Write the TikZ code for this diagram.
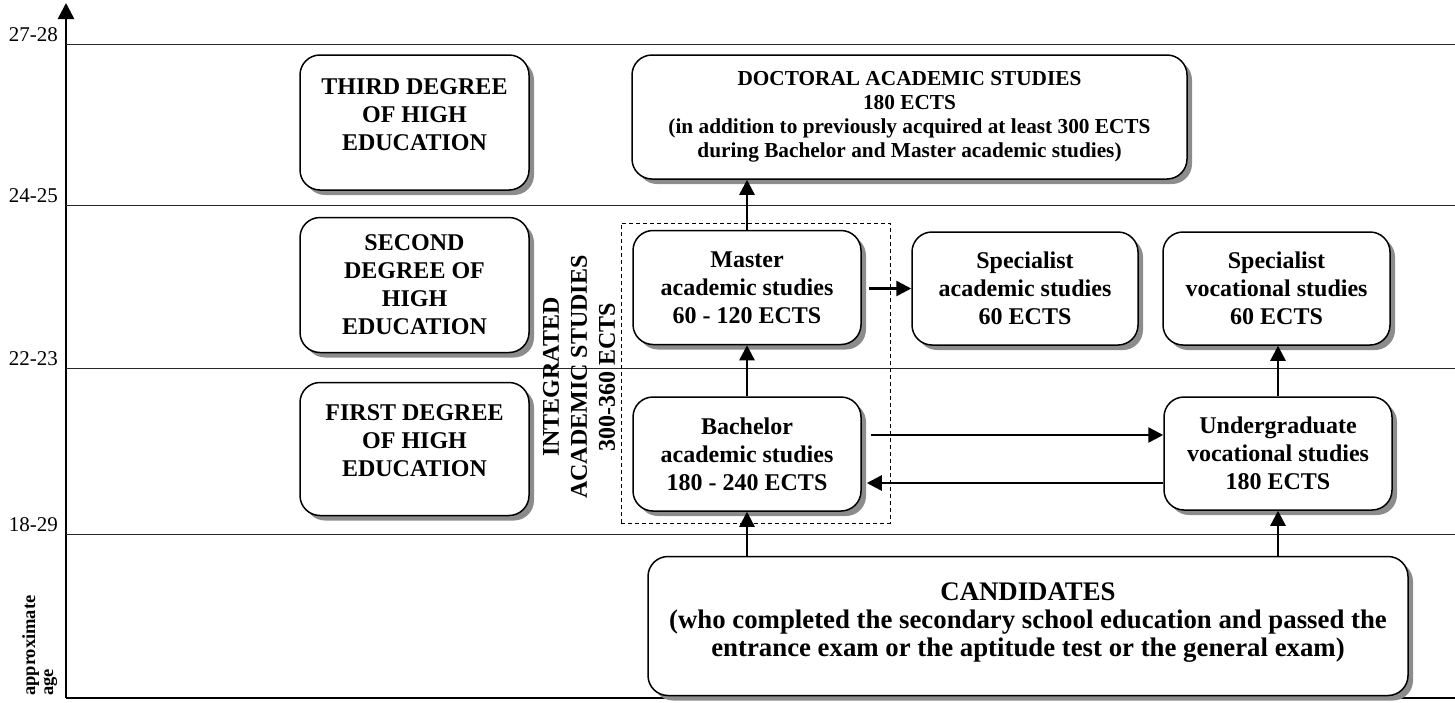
\documentclass[tikz,border=0pt]{standalone}
\usepackage{fontspec}
\setmainfont{Liberation Serif}
\usetikzlibrary{arrows.meta,shadows}
\tikzset{
  box/.style={draw, line width=1.5pt, rounded corners=20pt, fill=white, align=center,
    inner sep=0pt, font=\bfseries\fontsize{24}{28}\selectfont,
    drop shadow={shadow xshift=5pt, shadow yshift=-5pt, fill=black!45, opacity=1}},
  smallbox/.style={box, minimum width=228pt, minimum height=114pt},
  degbox/.style={box, minimum width=229pt, minimum height=135pt},
  arr/.style={line width=2.5pt, -{Triangle[length=15pt,width=15pt]}},
  agerule/.style={line width=0.9pt, black!85},
  axisline/.style={line width=2.5pt},
  agelabel/.style={font=\fontsize{21}{24}\selectfont, inner sep=0pt, anchor=base east},
  sidetext/.style={font=\bfseries\fontsize{24}{28}\selectfont, align=center, inner sep=0pt, rotate=90},
  dashbox/.style={draw, line width=1pt, dash pattern=on 4pt off 3pt}
}
\begin{document}
\begin{tikzpicture}[x=1pt,y=-1pt]
\useasboundingbox (0,0) rectangle (1455,702);
% axes
\coordinate (origin) at (66,698);
\coordinate (ytop) at (66,3);
\coordinate (xend) at (1455,698);
\draw[axisline, -{Triangle[length=16pt,width=16pt]}] (origin) -- (ytop);
\draw[axisline] (origin) -- (xend);
% age rules
\foreach \yy/\lab/\nm in {44/27-28/a, 205/24-25/b, 368/22-23/c, 534/18-29/d}{
  \coordinate (r\nm l) at (66,\yy);
  \coordinate (r\nm r) at (1455,\yy);
  \draw[agerule] (r\nm l) -- (r\nm r);
  \node[agelabel] (lab\nm) at (58,\yy-2.5) {\lab};
}
\node[rotate=90, anchor=north west, align=left, inner sep=0pt,
      font=\bfseries\fontsize{18.5}{18}\selectfont] (agetitle) at (22,696) {approximate\\age};
% dashed integrated box
\node[dashbox, minimum width=269pt, minimum height=300pt] (integrated) at (755.5,373) {};
\node[sidetext] (inttext) at (579,377) {INTEGRATED\\ACADEMIC STUDIES\\300-360 ECTS};
% degree boxes
\node[degbox] (third) at (414.5,122.5) {THIRD DEGREE\\OF HIGH\\EDUCATION\\[-12pt]\mbox{}};
\node[degbox] (second) at (414.5,285) {SECOND\\DEGREE OF\\HIGH\\EDUCATION};
\node[degbox, minimum height=133pt] (first) at (414.5,449) {FIRST DEGREE\\OF HIGH\\EDUCATION\\[-12pt]\mbox{}};
% study boxes
\node[box, minimum width=555pt, minimum height=124pt, font=\bfseries\fontsize{21.3}{24}\selectfont] (doctoral) at (909.5,117)
  {DOCTORAL ACADEMIC STUDIES\\180 ECTS\\(in addition to previously acquired at least 300 ECTS\\during Bachelor and Master academic studies)};
\node[smallbox] (master) at (747,287.5) {Master\\academic studies\\60 - 120 ECTS};
\node[smallbox, minimum width=226pt, minimum height=113pt] (specacad) at (1025,288.5) {Specialist\\academic studies\\60 ECTS};
\node[smallbox, minimum width=227pt, minimum height=113pt] (specvoc) at (1276.5,288.5) {Specialist\\vocational studies\\60 ECTS};
\node[smallbox] (bachelor) at (747,454) {Bachelor\\academic studies\\180 - 240 ECTS};
\node[smallbox, minimum height=113pt] (undergrad) at (1278,453.5) {Undergraduate\\vocational studies\\180 ECTS};
\node[box, minimum width=760pt, minimum height=139pt, font=\bfseries\fontsize{26.8}{28}\selectfont] (candidates) at (1028,626)
  {CANDIDATES\\(who completed the secondary school education and passed the\\entrance exam or the aptitude test or the general exam)\\[-16pt]\mbox{}};
% connectors
\draw[arr] (master.north) -- (master.north |- doctoral.south);
\draw[arr] (bachelor.north) -- (master.south);
\draw[arr, shorten <=7pt] (master.east |- specacad.west) -- (specacad.west);
\draw[arr, shorten <=9pt] ([yshift=19pt]bachelor.east) -- ([yshift=19pt]bachelor.east -| undergrad.west);
\draw[arr, shorten >=5pt] ([yshift=-29.5pt]undergrad.west) -- ([yshift=-29.5pt]undergrad.west -| bachelor.east);
\draw[arr] (undergrad.north) -- (undergrad.north |- specvoc.south);
\draw[arr] (bachelor.south |- candidates.north) -- (bachelor.south);
\draw[arr] (undergrad.south |- candidates.north) -- (undergrad.south);
\end{tikzpicture}
\end{document}
